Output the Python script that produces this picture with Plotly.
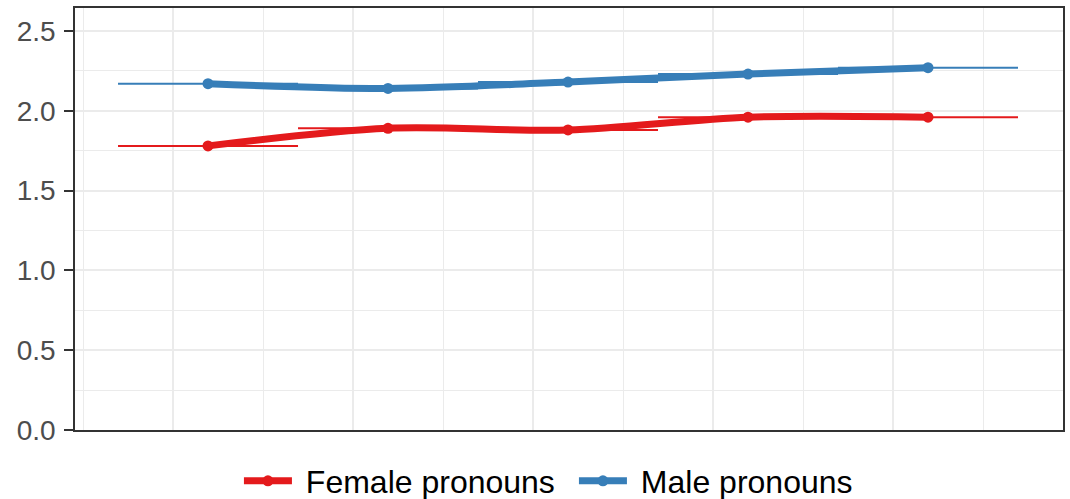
import plotly.graph_objects as go

# Data
periods = [1, 2, 3, 4, 5]
half_width = [0.5, 0.5, 0.5, 0.5, 0.5]
female = [1.78, 1.89, 1.88, 1.96, 1.96]
male = [2.17, 2.14, 2.18, 2.23, 2.27]
series_names = ["Female pronouns", "Male pronouns"]
colors = ["#E41A1C", "#377EB8"]
y_ticks = [0.0, 0.5, 1.0, 1.5, 2.0, 2.5]
y_tick_labels = ["0.0", "0.5", "1.0", "1.5", "2.0", "2.5"]
x_major = [0.806, 1.806, 2.806, 3.806, 4.806]
x_minor = [0.306, 1.306, 2.306, 3.306, 4.306, 5.306]
y_minor = [0.25, 0.75, 1.25, 1.75, 2.25]

fig = go.Figure()
for name, vals, col in zip(series_names, [female, male], colors):
    fig.add_trace(go.Scatter(
        x=periods, y=vals, name="\u00a0" + name, mode="lines+markers",
        line=dict(color=col, width=7, shape="spline", smoothing=0.9),
        marker=dict(color=col, size=11),
        error_x=dict(type="data", array=half_width, symmetric=True,
                     color=col, thickness=2, width=0),
    ))

grid_col = "#EBEBEB"
fig.update_layout(
    width=1070, height=499,
    paper_bgcolor="white", plot_bgcolor="white",
    margin=dict(l=75, r=7, t=8, b=69, autoexpand=False),
    font=dict(family="Liberation Sans, Arial, sans-serif"),
    showlegend=True,
    legend=dict(orientation="h", x=0.505, xanchor="center", y=-0.121,
                yanchor="middle", font=dict(size=32, color="black"),
                itemwidth=48, entrywidth=272, entrywidthmode="pixels",
                bgcolor="rgba(0,0,0,0)"),
    xaxis=dict(range=[0.261, 5.75], tickmode="array", tickvals=x_major,
               showticklabels=False, ticks="", showgrid=True, automargin=False,
               gridcolor=grid_col, gridwidth=2, zeroline=False,
               showline=True, mirror=True, linecolor="#333333", linewidth=1.5,
               minor=dict(tickvals=x_minor, showgrid=True, gridcolor=grid_col,
                          gridwidth=1, ticks="")),
    yaxis=dict(range=[0, 2.644], tickmode="array", tickvals=y_ticks,
               ticktext=y_tick_labels, ticks="outside", ticklen=9, tickwidth=2,
               tickcolor="#333333", tickfont=dict(size=28, color="#4D4D4D"),
               ticklabelstandoff=3, automargin=False,
               showgrid=True, gridcolor=grid_col, gridwidth=2, zeroline=False,
               showline=True, mirror=True, linecolor="#333333", linewidth=1.5,
               minor=dict(tickvals=y_minor, showgrid=True, gridcolor=grid_col,
                          gridwidth=1, ticks="")),
)

fig.write_html(
    "out.html",
    config={"displayModeBar": False},
    post_script="document.body.style.margin='0';document.body.style.padding='0';",
)
